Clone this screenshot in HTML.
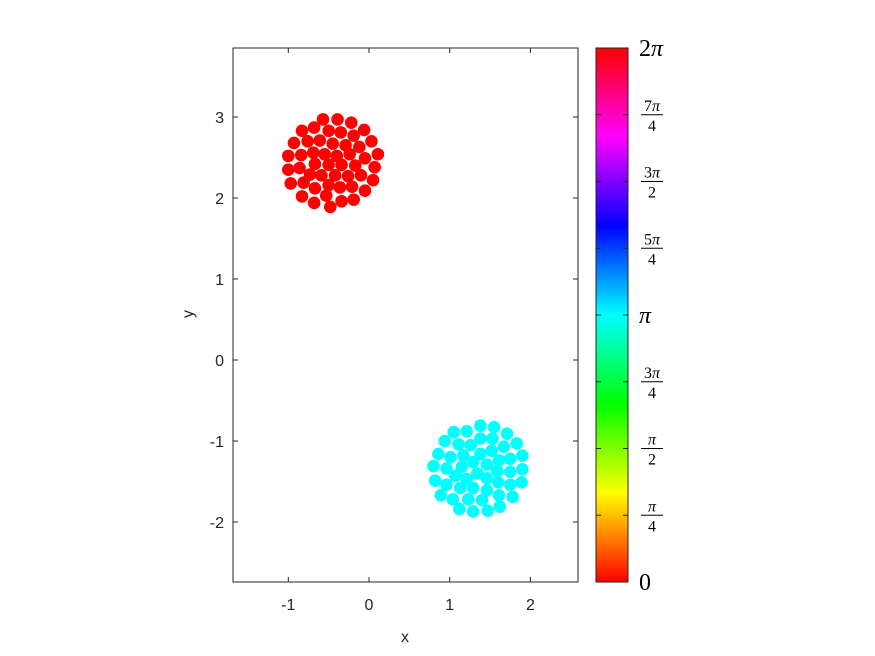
<!DOCTYPE html>
<html><head><meta charset="utf-8">
<style>
body{margin:0;background:#fff;}
svg{display:block;font-family:"Liberation Sans",sans-serif;}
.tk{font-size:16px;fill:#262626;}
.cb{font-family:"Liberation Serif",serif;fill:#000;}
.pi{font-style:italic;}
</style></head>
<body>
<svg id="chart" width="875" height="656" viewBox="0 0 875 656">
<defs>
<linearGradient id="hsv" x1="0" y1="1" x2="0" y2="0">
<stop offset="0" stop-color="#ff0000"/><stop offset="0.1667" stop-color="#ffff00"/>
<stop offset="0.3333" stop-color="#00ff00"/><stop offset="0.5" stop-color="#00ffff"/>
<stop offset="0.6667" stop-color="#0000ff"/><stop offset="0.8333" stop-color="#ff00ff"/>
<stop offset="1" stop-color="#ff0000"/>
</linearGradient>
</defs>
<rect x="233" y="48" width="345" height="534" fill="#fff" stroke="#262626" stroke-width="1"/>
<g id="marks"></g>
<g id="axes"></g>
<text x="405" y="642" text-anchor="middle" class="tk" font-size="18">x</text>
<text x="0" y="0" transform="translate(193,314) rotate(-90)" text-anchor="middle" class="tk" font-size="18">y</text>
<rect x="596" y="48" width="32" height="534" fill="url(#hsv)" stroke="#262626" stroke-width="1"/>
<g id="cbar"></g>
</svg>
<script>
const xTicks=[-1,0,1,2];
const yTicks=[-2,-1,0,1,2,3];
const cbTicks=[0,1,2,3,4,5,6,7,8];
const redX=[-0.57,-0.39,-0.22,-0.83,-0.68,-0.50,-0.35,-0.06,-0.19,-0.93,-0.76,-0.61,-0.45,-0.29,-0.12,0.03,-1.00,-0.84,-0.69,-0.55,-0.40,-0.24,-0.05,0.11,-1.00,-0.86,-0.67,-0.50,-0.34,-0.17,0.07,-0.97,-0.81,-0.73,-0.59,-0.42,-0.26,-0.10,0.05,-0.67,-0.50,-0.36,-0.21,-0.05,-0.83,-0.53,-0.34,-0.19,-0.68,-0.48];
const redY=[2.97,2.97,2.93,2.83,2.87,2.83,2.81,2.84,2.77,2.68,2.70,2.71,2.67,2.65,2.63,2.70,2.52,2.53,2.56,2.54,2.52,2.54,2.49,2.54,2.35,2.37,2.42,2.41,2.41,2.40,2.38,2.18,2.19,2.29,2.28,2.28,2.27,2.28,2.22,2.12,2.16,2.13,2.14,2.09,2.02,2.03,1.96,1.98,1.94,1.89];
const cyanX=[1.38,1.55,1.21,1.05,1.71,0.94,1.11,1.26,1.38,1.53,1.67,1.83,0.86,1.01,1.17,1.38,1.52,1.61,1.75,1.90,0.80,0.96,1.15,1.29,1.46,1.59,1.75,1.90,0.82,0.96,1.07,1.21,1.34,1.46,1.60,1.75,1.89,0.89,1.04,1.13,1.29,1.46,1.61,1.78,1.23,1.40,1.12,1.29,1.47,1.62];
const cyanY=[-0.81,-0.83,-0.88,-0.89,-0.91,-1.00,-1.04,-1.05,-0.97,-0.97,-1.07,-1.03,-1.16,-1.20,-1.18,-1.16,-1.12,-1.24,-1.22,-1.18,-1.31,-1.34,-1.32,-1.26,-1.29,-1.37,-1.38,-1.35,-1.49,-1.54,-1.43,-1.47,-1.40,-1.46,-1.51,-1.54,-1.51,-1.67,-1.72,-1.58,-1.58,-1.61,-1.67,-1.69,-1.72,-1.73,-1.84,-1.87,-1.86,-1.81];
const cbLabels=[["0"],["π","4"],["π","2"],["3π","4"],["π"],["5π","4"],["3π","2"],["7π","4"],["2π"]];

const NS="http://www.w3.org/2000/svg";
const sx=v=>369+v*80.7;
const sy=v=>360-v*81;
const cy=i=>582-i*(534/8);
function mk(tag,attrs,parent,txt){const e=document.createElementNS(NS,tag);for(const k in attrs)e.setAttribute(k,attrs[k]);if(txt!==undefined)e.textContent=txt;parent.appendChild(e);return e;}
function mt(attrs,parent,str){const t=mk('text',attrs,parent);
for(const ch of str){const s=mk('tspan',{},t,ch);if(ch==='π')s.setAttribute('class','pi');}return t;}
const marks=document.getElementById('marks');
redX.forEach((x,i)=>{const c=mk('circle',{cx:sx(x),cy:sy(redY[i]),r:6.3,fill:'#ff0000'},marks);

});
cyanX.forEach((x,i)=>{const c=mk('circle',{cx:sx(x),cy:sy(cyanY[i]),r:6.3,fill:'#00ffff'},marks);

});
const ax=document.getElementById('axes');
xTicks.forEach(t=>{const x=sx(t);
mk('line',{x1:x,x2:x,y1:582,y2:577,stroke:'#262626'},ax);
mk('line',{x1:x,x2:x,y1:48,y2:53,stroke:'#262626'},ax);
const l=mk('text',{x:x,y:610,'text-anchor':'middle',class:'tk'},ax,String(t));

});
yTicks.forEach(t=>{const y=sy(t);
mk('line',{x1:233,x2:238,y1:y,y2:y,stroke:'#262626'},ax);
mk('line',{x1:578,x2:573,y1:y,y2:y,stroke:'#262626'},ax);
const l=mk('text',{x:224,y:y+6,'text-anchor':'end',class:'tk'},ax,String(t));

});
const cb=document.getElementById('cbar');
cbTicks.forEach(i=>{const y=cy(i);const lab=cbLabels[i];
if(i>0&&i<8){mk('line',{x1:628,x2:623,y1:y,y2:y,stroke:'#262626'},cb);mk('line',{x1:596,x2:601,y1:y,y2:y,stroke:'#262626'},cb);}
let g;
if(lab.length===1){g=mt({x:639,y:y+8,class:'cb','font-size':'24'},cb,lab[0]);}
else{g=mk('g',{},cb);
mt({x:652,y:y-4,'text-anchor':'middle',class:'cb','font-size':'16'},g,lab[0]);
mk('line',{x1:641,x2:663,y1:y,y2:y,stroke:'#000','stroke-width':1},g);
mt({x:652,y:y+16,'text-anchor':'middle',class:'cb','font-size':'16'},g,lab[1]);}

});
</script>
</body></html>
